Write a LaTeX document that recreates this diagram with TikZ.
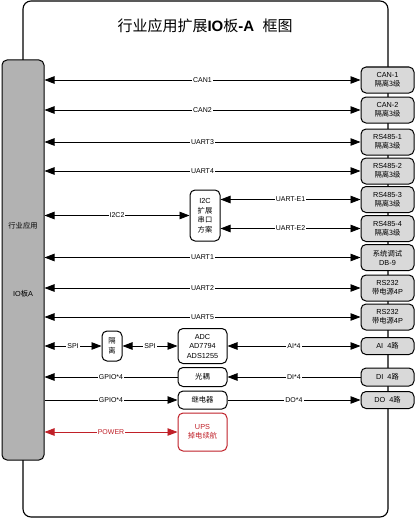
\documentclass[tikz,border=0pt]{standalone}
\usepackage{fontspec}
\setmainfont{Liberation Sans}
\newfontfamily\cjk{Noto Sans CJK SC}
\usetikzlibrary{arrows.meta}
\definecolor{upsred}{RGB}{192,32,40}
\tikzset{
  portbox/.style={draw, line width=1pt, rounded corners=5pt, fill=gray!30, minimum width=53pt, minimum height=26pt, inner sep=0pt, align=center, font=\fontsize{7.3}{9}\selectfont},
  midbox/.style={draw, line width=1pt, rounded corners=5pt, fill=white, inner sep=0pt, align=center, font=\fontsize{7.3}{9.5}\selectfont},
  lbl/.style={fill=white, inner sep=1pt, font=\fontsize{7}{7.5}\selectfont},
  biarr/.style={{Triangle[length=10pt,width=7.5pt]}-{Triangle[length=10pt,width=7.5pt]}},
  onearr/.style={-{Triangle[length=10pt,width=7.5pt]}}
}
\begin{document}
\begin{tikzpicture}[x=1pt, y=-1pt, line width=0.8pt]
\useasboundingbox (0,0) rectangle (416,519);
\draw[line width=1.1pt, rounded corners=8pt] (23,1) rectangle (388,517);
\node[font=\fontsize{15}{16}\selectfont] (title) at (205,26){{\cjk 行业应用扩展}\textbf{IO}{\cjk 板}\textbf{-A}~~{\cjk 框图}};

% left board
\node[draw, line width=1pt, rounded corners=5pt, fill=gray!60, minimum width=42pt, minimum height=400pt] (app) at (23,260){};
\node[font=\fontsize{7.3}{8}\selectfont] (appname) at (23,226){\cjk 行业应用};
\node[font=\fontsize{7.3}{8}\selectfont] (appio) at (23,294){IO{\cjk 板}A};

% ports
\node[portbox] (can1) at (387.5,80){CAN-1\\{\cjk 隔离3级}};
\node[portbox] (can2) at (387.5,110){CAN-2\\{\cjk 隔离3级}};
\node[portbox] (rs1) at (387.5,142){RS485-1\\{\cjk 隔离3级}};
\node[portbox] (rs2) at (387.5,171){RS485-2\\{\cjk 隔离3级}};
\node[portbox] (rs3) at (387.5,199.5){RS485-3\\{\cjk 隔离3级}};
\node[portbox] (rs4) at (387.5,228.5){RS485-4\\{\cjk 隔离3级}};
\node[portbox] (dbg) at (387.5,257.5){{\cjk 系统调试}\\DB-9};
\node[portbox] (rs232a) at (387.5,288){RS232\\{\cjk 带电源}4P};
\node[portbox] (rs232b) at (387.5,317){RS232\\{\cjk 带电源}4P};
\node[portbox, minimum height=17pt] (ai) at (387.5,346){AI~~4{\cjk 路}};
\node[portbox, minimum height=18pt] (di) at (387.5,377){DI~~4{\cjk 路}};
\node[portbox, minimum height=17pt] (do) at (387.5,400){DO~~4{\cjk 路}};

% middle blocks
\node[midbox, minimum width=30pt, minimum height=51pt] (i2c) at (205,215.5){I2C\\{\cjk 扩展}\\{\cjk 串口}\\{\cjk 方案}};
\node[midbox, minimum width=20pt, minimum height=30pt] (iso) at (112,346){{\cjk 隔}\\{\cjk 离}};
\node[midbox, minimum width=49pt, minimum height=35pt] (adc) at (202.5,346){ADC\\AD7794\\ADS1255};
\node[midbox, minimum width=49pt, minimum height=19pt] (opto) at (202.5,377){\cjk 光耦};
\node[midbox, minimum width=49pt, minimum height=18pt] (relay) at (202.5,400){\cjk 继电器};
\node[midbox, draw=upsred, text=upsred, minimum width=49pt, minimum height=38pt] (ups) at (202.5,432){UPS\\{\cjk 掉电续航}};

% links
\draw[biarr] (app.east |- can1.west) -- node[lbl]{CAN1} (can1.west);
\draw[biarr] (app.east |- can2.west) -- node[lbl]{CAN2} (can2.west);
\draw[biarr] (app.east |- rs1.west) -- node[lbl]{UART3} (rs1.west);
\draw[biarr] (app.east |- rs2.west) -- node[lbl]{UART4} (rs2.west);
\draw[biarr] (app.east |- i2c.west) -- node[lbl]{I2C2} (i2c.west);
\draw[biarr] (i2c.east |- rs3.west) -- node[lbl]{UART-E1} (rs3.west);
\draw[biarr] (i2c.east |- rs4.west) -- node[lbl]{UART-E2} (rs4.west);
\draw[biarr] (app.east |- dbg.west) -- node[lbl]{UART1} (dbg.west);
\draw[biarr] (app.east |- rs232a.west) -- node[lbl]{UART2} (rs232a.west);
\draw[biarr] (app.east |- rs232b.west) -- node[lbl]{UART5} (rs232b.west);
\draw[biarr] (app.east |- iso.west) -- node[lbl]{SPI} (iso.west);
\draw[biarr] (iso.east) -- node[lbl]{SPI} (adc.west);
\draw[biarr] (adc.east) -- node[lbl]{AI*4} (ai.west);
\draw[onearr] (opto.west) -- node[lbl]{GPIO*4} (app.east |- opto.west);
\draw[onearr] (di.west) -- node[lbl]{DI*4} (opto.east);
\draw[onearr] (app.east |- relay.west) -- node[lbl]{GPIO*4} (relay.west);
\draw[onearr] (relay.east) -- node[lbl]{DO*4} (do.west);
\draw[biarr, upsred] (app.east |- ups.west) -- node[lbl]{POWER} (ups.west);

\end{tikzpicture}
\end{document}
